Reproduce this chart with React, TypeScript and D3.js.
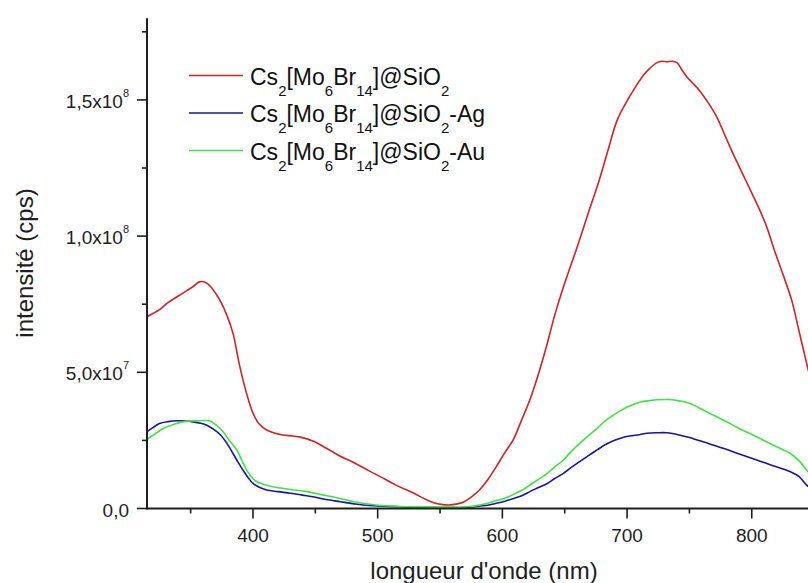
import React from "react";
import * as d3 from "d3";

// values in units of 1e7 cps
const redNm = [315,325,331,340,347,352,357,362,366,370,374,379,384,389,395,400,405,411,418,424,432,438,448,459,470,478,490,502,515,529,540,545,551,557,563,569,575,582,589,595,602,609,615,622,629,636,642,649,660,670,678,685,692,698,705,713,718,724,728,732,736,740,744,748,753,758,765,772,778,785,792,799,806,812,818,825,832,838,844,848];
const redVal = [7.04,7.3,7.53,7.8,8.0,8.15,8.32,8.3,8.15,7.9,7.6,7.1,6.43,5.3,4.2,3.5,3.1,2.88,2.76,2.7,2.66,2.62,2.48,2.21,1.92,1.75,1.46,1.17,0.85,0.56,0.3,0.21,0.15,0.13,0.16,0.24,0.42,0.7,1.1,1.53,2.05,2.55,3.2,3.98,4.95,6.06,7.1,8.14,9.6,11.0,12.1,13.2,14.25,14.8,15.35,15.9,16.15,16.37,16.42,16.4,16.42,16.37,16.1,15.84,15.6,15.35,14.9,14.37,13.75,13.03,12.35,11.68,11.0,10.34,9.5,8.6,7.65,6.5,5.33,4.6];

const blueNm = [315,320,325,332,339,346,352,358,363,368,374,379,384,388,392,396,400,405,411,420,430,440,448,460,470,480,488,500,515,530,545,560,569,576,582,589,595,602,609,616,622,629,636,642,649,655,662,669,676,682,689,696,702,710,716,724,732,740,750,763,777,790,804,817,831,838,844,848];
const blueVal = [2.82,2.98,3.12,3.19,3.22,3.21,3.18,3.13,3.06,2.92,2.7,2.4,2.02,1.7,1.41,1.14,0.92,0.78,0.68,0.62,0.56,0.49,0.43,0.32,0.25,0.18,0.13,0.09,0.07,0.05,0.04,0.04,0.04,0.06,0.09,0.13,0.19,0.27,0.37,0.48,0.62,0.77,0.92,1.1,1.29,1.5,1.72,1.94,2.15,2.33,2.49,2.6,2.66,2.71,2.76,2.78,2.78,2.72,2.61,2.42,2.21,2.0,1.78,1.57,1.35,1.17,0.86,0.72];

const greenNm = [315,321,328,336,344,350,355,360,365,370,376,381,387,391,395,399,403,409,416,430,443,456,470,480,488,500,515,530,545,560,569,576,582,589,595,602,609,616,622,629,636,642,649,655,662,669,676,682,689,696,702,710,716,724,734,742,750,763,777,790,804,817,831,838,844,848];
const greenVal = [2.54,2.72,2.94,3.08,3.18,3.21,3.22,3.23,3.22,3.08,2.82,2.5,2.15,1.78,1.41,1.15,0.98,0.88,0.8,0.7,0.62,0.5,0.37,0.26,0.19,0.12,0.08,0.06,0.05,0.05,0.05,0.08,0.13,0.2,0.29,0.38,0.52,0.68,0.86,1.07,1.29,1.53,1.78,2.08,2.39,2.67,2.94,3.2,3.43,3.62,3.76,3.9,3.95,3.99,4.0,3.95,3.86,3.57,3.25,2.94,2.63,2.33,2.02,1.75,1.41,1.2];

const xMajor = [400, 500, 600, 700, 800];
const xMinor = [350, 450, 550, 650, 750, 850];
const yMajor = [0, 5, 10, 15];
const yMinor = [2.5, 7.5, 12.5, 17.5];
const yTickMain = ["0,0", "5,0x10", "1,0x10", "1,5x10"];
const yTickExp = ["", "7", "8", "8"];

const legendSuffix = ["", "-Ag", "-Au"];

const series = [
  { nm: redNm, val: redVal, color: "#d42222" },
  { nm: blueNm, val: blueVal, color: "#1414a8" },
  { nm: greenNm, val: greenVal, color: "#3ce63c" },
];

const W = 808;
const H = 583;
const axisColor = "#1e1e1e";
const font = "'Liberation Sans', Arial, sans-serif";

export default function App() {
  const x = d3.scaleLinear().domain([315, 850]).range([147, 814.1]);
  const y = d3.scaleLinear().domain([0, 18]).range([508.5, 18.2]);
  const line = d3
    .line<[number, number]>()
    .x((d) => x(d[0]))
    .y((d) => y(d[1]))
    .curve(d3.curveCatmullRom.alpha(0.5));

  const y0 = y(0);
  const x0 = x(315);

  return (
    <svg
      width={W}
      height={H}
      style={{ position: "absolute", left: 0, top: 0, background: "#fff" }}
      fontFamily={font}
    >
      <rect x={0} y={0} width={W} height={H} fill="#fff" />
      {series.map((s, i) => (
        <path
          key={i}
          d={line(s.nm.map((n, k) => [n, s.val[k]] as [number, number])) || ""}
          fill="none"
          stroke={s.color}
          strokeWidth={1.6}
          strokeLinejoin="round"
        />
      ))}

      {/* axes */}
      <line x1={x0} x2={W + 10} y1={y0} y2={y0} stroke={axisColor} strokeWidth={2} />
      <line x1={x0} x2={x0} y1={y0 + 1} y2={y(18)} stroke={axisColor} strokeWidth={2} />

      {xMajor.map((t) => (
        <g key={"xM" + t}>
          <line x1={x(t)} x2={x(t)} y1={y0} y2={y0 + 10} stroke={axisColor} strokeWidth={1.6} />
          <text x={x(t)} y={542} textAnchor="middle" fontSize={19} fill={axisColor}>
            {t}
          </text>
        </g>
      ))}
      {xMinor.map((t) => (
        <line key={"xm" + t} x1={x(t)} x2={x(t)} y1={y0} y2={y0 + 5} stroke={axisColor} strokeWidth={1.6} />
      ))}

      {yMajor.map((t, i) => (
        <g key={"yM" + t}>
          <line x1={x0} x2={x0 - 10} y1={y(t)} y2={y(t)} stroke={axisColor} strokeWidth={1.6} />
          <text x={129} y={y(t) + 8} textAnchor="end" fontSize={19} fill={axisColor}>
            {yTickMain[i]}
            {yTickExp[i] && (
              <tspan fontSize={11} dy={-11}>
                {yTickExp[i]}
              </tspan>
            )}
          </text>
        </g>
      ))}
      {yMinor.map((t) => (
        <line key={"ym" + t} x1={x0} x2={x0 - 5} y1={y(t)} y2={y(t)} stroke={axisColor} strokeWidth={1.6} />
      ))}

      {/* axis titles */}
      <text x={484} y={579} textAnchor="middle" fontSize={24} fill={axisColor}>
        longueur d'onde (nm)
      </text>
      <text
        transform={`translate(33, 263) rotate(-90)`}
        textAnchor="middle"
        fontSize={24}
        fill={axisColor}
      >
        intensité (cps)
      </text>

      {/* legend */}
      {series.map((s, i) => {
        const ly = 75.5 + i * 37.5;
        return (
          <g key={"lg" + i}>
            <line x1={189} x2={243} y1={ly} y2={ly} stroke={s.color} strokeWidth={1.6} />
            <text x={250} y={ly + 9} fontSize={23} fill="#111">
              Cs
              <tspan fontSize={15} dy={11}>2</tspan>
              <tspan dy={-11}>[Mo</tspan>
              <tspan fontSize={15} dy={11}>6</tspan>
              <tspan dy={-11}>Br</tspan>
              <tspan fontSize={15} dy={11}>14</tspan>
              <tspan dy={-11}>]@SiO</tspan>
              <tspan fontSize={15} dy={11}>2</tspan>
              <tspan dy={-11}>{legendSuffix[i]}</tspan>
            </text>
          </g>
        );
      })}
    </svg>
  );
}
